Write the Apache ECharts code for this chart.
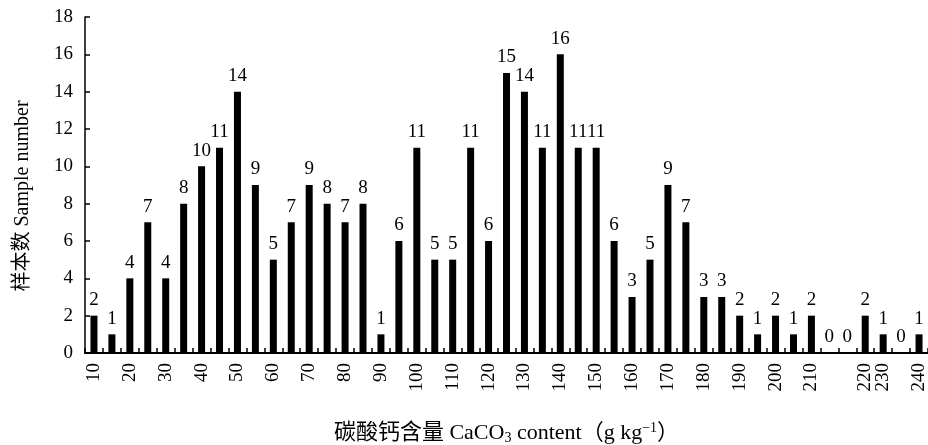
<!DOCTYPE html>
<html>
<head>
<meta charset="utf-8">
<script src="https://cdn.jsdelivr.net/npm/echarts@6/dist/echarts.min.js"></script>
<style>
  html, body { margin: 0; padding: 0; background: #fff; }
  #chart { width: 928px; height: 445px; }
</style>
</head>
<body>
<div id="chart"></div>
<script>
// CaCO3 content bins (g kg-1), 5 g/kg wide
const bins = [10, 15, 20, 25, 30, 35, 40, 45, 50, 55, 60, 65, 70, 75, 80, 85, 90, 95,
  100, 105, 110, 115, 120, 125, 130, 135, 140, 145, 150, 155, 160, 165, 170, 175,
  180, 185, 190, 195, 200, 205, 210, 215, 220, 225, 230, 235, 240];

// Number of samples in each bin
const counts = [2, 1, 4, 7, 4, 8, 10, 11, 14, 9, 5, 7, 9, 8, 7, 8, 1, 6,
  11, 5, 5, 11, 6, 15, 14, 11, 16, 11, 11, 6, 3, 5, 9, 7,
  3, 3, 2, 1, 2, 1, 2, 0, 0, 2, 1, 0, 1];

// Labels printed under the category axis (blank = no label)
const tickLabels = ['10', '', '20', '', '30', '', '40', '', '50', '', '60', '', '70', '', '80', '', '90', '',
  '100', '', '110', '', '120', '', '130', '', '140', '', '150', '', '160', '', '170', '',
  '180', '', '190', '', '200', '', '210', '', '', '220', '230', '', '240'];

const serif = '"Liberation Serif", "Times New Roman", "Noto Sans CJK SC", serif';

const chart = echarts.init(document.getElementById('chart'), null, { renderer: 'canvas' });
chart.setOption({
  animation: false,
  backgroundColor: '#ffffff',
  grid: { left: 85, right: 0, top: 17, bottom: 92, containLabel: false, outerBoundsMode: 'none' },
  xAxis: {
    type: 'category',
    data: bins.map(String),
    boundaryGap: true,
    name: '碳酸钙含量 CaCO{sub|3} content（g kg{sup|−1}）',
    nameLocation: 'middle',
    nameGap: 68,
    nameTextStyle: {
      fontFamily: serif,
      fontSize: 22,
      color: '#000',
      rich: {
        sub: { fontFamily: serif, fontSize: 14, color: '#000', verticalAlign: 'bottom', padding: [10, 0, 0, 0] },
        sup: { fontFamily: serif, fontSize: 14, color: '#000', verticalAlign: 'top', padding: [0, 0, 8, 0] }
      }
    },
    axisLine: { show: true, lineStyle: { color: '#000', width: 2 } },
    axisTick: { show: true, inside: true, length: 5, interval: 0, lineStyle: { color: '#000', width: 1.5 } },
    axisLabel: {
      interval: 0,
      rotate: 90,
      margin: 10,
      fontFamily: serif,
      fontSize: 19,
      color: '#000',
      formatter: (v, i) => tickLabels[i]
    },
    splitLine: { show: false }
  },
  yAxis: {
    type: 'value',
    min: 0,
    max: 18,
    interval: 2,
    name: '样本数 Sample number',
    nameLocation: 'middle',
    nameGap: 52,
    nameTextStyle: { fontFamily: serif, fontSize: 20, color: '#000', padding: [0, 22, 0, 0] },
    axisLine: { show: true, lineStyle: { color: '#000', width: 1.5 } },
    axisTick: { show: true, inside: true, length: 5, lineStyle: { color: '#000', width: 1.5 } },
    axisLabel: { margin: 12, fontFamily: serif, fontSize: 19, color: '#000' },
    splitLine: { show: false }
  },
  series: [{
    type: 'bar',
    data: counts,
    barWidth: 7,
    itemStyle: { color: '#000' },
    label: {
      show: true,
      position: 'top',
      distance: 6,
      fontFamily: serif,
      fontSize: 19,
      color: '#000'
    }
  }]
});
</script>
</body>
</html>
